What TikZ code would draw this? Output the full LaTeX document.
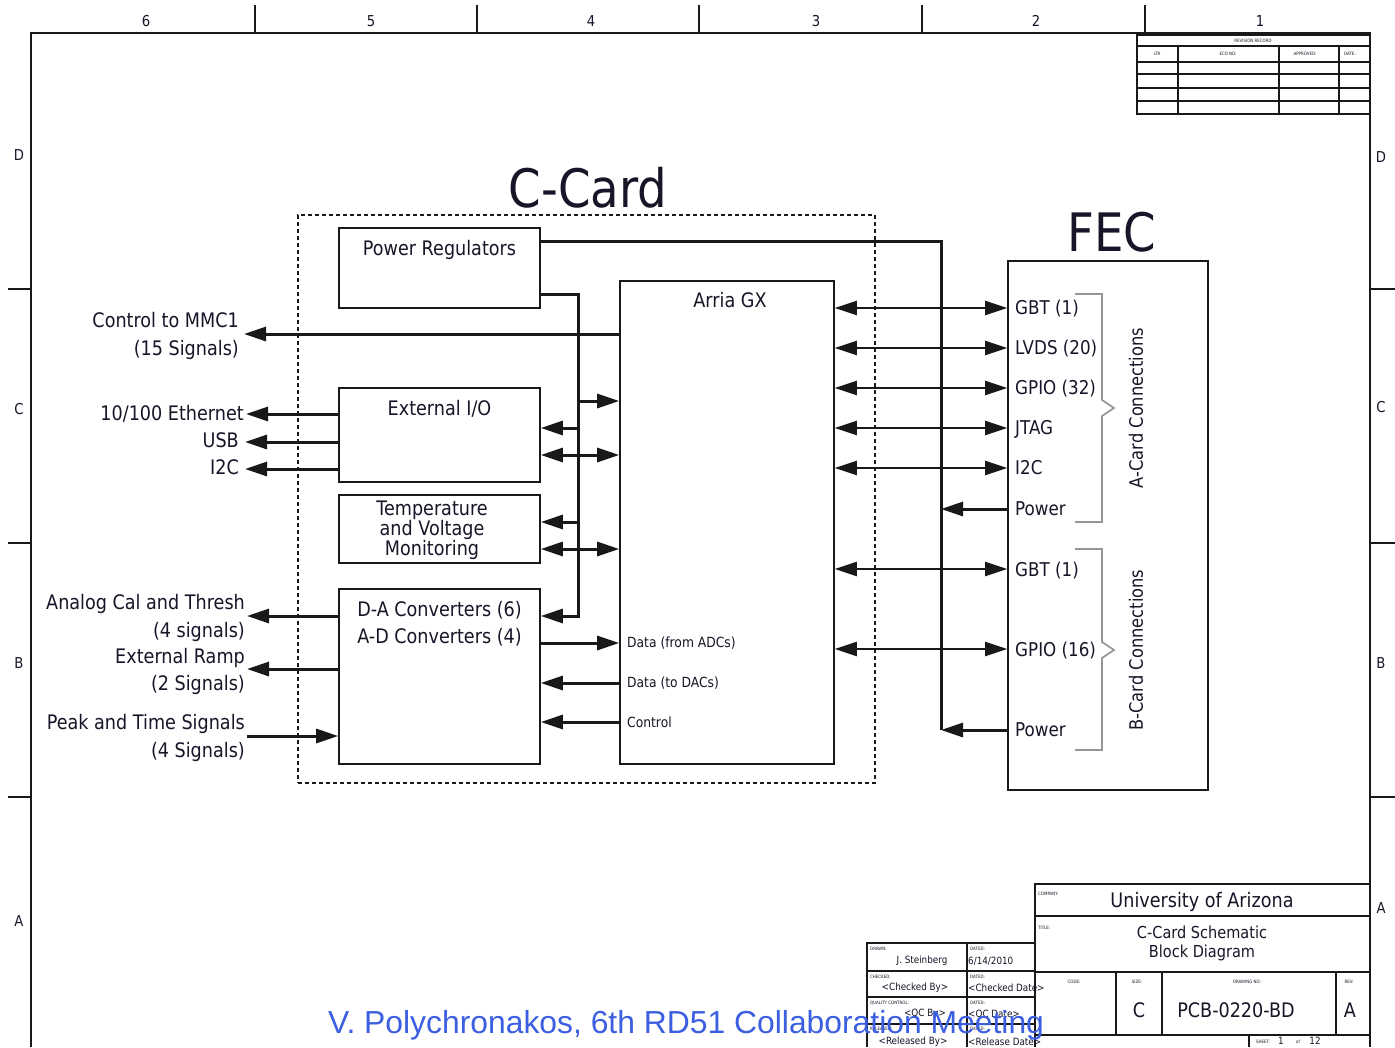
\documentclass[tikz,border=0pt]{standalone}
\usepackage{fontspec}
\setmainfont{DejaVu Sans}[FakeStretch=0.88]
\newfontfamily\arialfont{Liberation Sans}
\usetikzlibrary{arrows.meta,calc}
\definecolor{ink}{RGB}{22,22,40}
\definecolor{linec}{RGB}{25,25,25}
\definecolor{bluetxt}{RGB}{60,95,225}
\definecolor{brk}{RGB}{150,150,150}
\tikzset{
  frame/.style={draw=linec, line width=1.4pt},
  box/.style={draw=linec, line width=1.6pt, inner sep=0pt},
  dashbox/.style={draw=linec, line width=1.2pt, dash pattern=on 4pt off 3pt, inner sep=0pt},
  t20/.style={text=ink, font=\fontsize{20}{27}\selectfont, inner sep=2pt, text height=14.6pt, text depth=4.2pt},
  t20m/.style={text=ink, font=\fontsize{20}{27.5}\selectfont, inner sep=2pt, align=right},
  t19/.style={text=ink, font=\fontsize{19}{24}\selectfont, inner sep=0pt, text height=13.9pt, text depth=4pt},
  t14/.style={text=ink, font=\fontsize{14}{17}\selectfont, inner sep=0pt},
  t10/.style={text=ink, font=\fontsize{10}{12}\selectfont, inner sep=0pt},
  tiny/.style={text=ink, font=\fontsize{4.5}{5}\selectfont, inner sep=0pt},
  zone/.style={text=ink, font=\fontsize{15}{18}\selectfont, inner sep=0pt},
  bigtitle/.style={text=ink, font=\fontsize{53}{60}\selectfont, inner sep=0pt},
  rot/.style={text=ink, font=\fontsize{18.5}{22}\selectfont, inner sep=0pt, rotate=90},
  thk/.style={draw=linec, line width=3pt},
  med/.style={draw=linec, line width=2pt},
  tip/.style={-{Triangle[length=22pt,width=14pt]}},
  both/.style={{Triangle[length=22pt,width=14pt]}-{Triangle[length=22pt,width=14pt]}},
  brace/.style={draw=brk, line width=1.7pt},
}
\begin{document}
\begin{tikzpicture}[x=1pt,y=-1pt]
\useasboundingbox (0,0) rectangle (1395,1047);
\fill[white] (0,0) rectangle (1395,1047);

% ---------- drawing frame ----------
\draw[frame] (31,1047) -- (31,33) -- (1370,33) -- (1370,1047);
\foreach \x in {255,477,699,922,1145} \draw[frame] (\x,5) -- (\x,33);
\foreach \y in {289,543,797} {\draw[frame] (8,\y) -- (31,\y); \draw[frame] (1370,\y) -- (1395,\y);}
\foreach \x/\n in {146/6,371/5,591/4,816/3,1036/2,1260/1} \node[zone] at (\x,21) {\n};
\foreach \y/\n in {155/D,409/C,663/B,921/A} \node[zone] at (19,\y) {\n};
\foreach \y/\n in {157/D,407/C,663/B,908/A} \node[zone] at (1381,\y) {\n};

% ---------- revision record ----------
\draw[frame, line width=1.2pt] (1137,35) rectangle (1370,114);
\foreach \y in {46,62,74,88,101} \draw[frame, line width=1.2pt] (1137,\y) -- (1370,\y);
\foreach \x in {1178,1279,1339} \draw[frame, line width=1.2pt] (\x,46) -- (\x,114);
\node[tiny] at (1253,41) {REVISION RECORD};
\node[tiny] at (1157,54) {LTR};
\node[tiny] at (1228,54) {ECO NO:};
\node[tiny] at (1305,54) {APPROVED:};
\node[tiny] at (1350,54) {DATE:};

% ---------- C-Card ----------
\node[dashbox, minimum width=577pt, minimum height=568pt] (ccard) at (586.5,499) {};
\node[bigtitle] (ccardT) at (588,188) {C-Card};

\node[box, minimum width=201pt, minimum height=80pt] (pr) at (439.5,268) {};
\node[t20] (prT) at (439.5,250) {Power Regulators};

\node[box, minimum width=214pt, minimum height=483pt] (arria) at (727,522.5) {};
\node[t20] (arriaT) at (730,302) {Arria GX};

\node[box, minimum width=201pt, minimum height=94pt] (eio) at (439.5,435) {};
\node[t20] (eioT) at (439.5,410) {External I/O};

\node[box, minimum width=201pt, minimum height=68pt] (tvm) at (439.5,529) {};
\node[text=ink, font=\fontsize{20}{20}\selectfont, inner sep=0pt, align=center] (tvmT) at (432,530) {Temperature\\and Voltage\\Monitoring};

\node[box, minimum width=201pt, minimum height=175pt] (dac) at (439.5,676.5) {};
\node[t20] (dacT1) at (439.5,611) {D-A Converters (6)};
\node[t20] (dacT2) at (439.5,638) {A-D Converters (4)};

% ---------- FEC ----------
\node[box, minimum width=200pt, minimum height=529pt] (fec) at (1108,525.5) {};
\node[bigtitle] (fecT) at (1112,232) {FEC};

\node[t19, anchor=west] (gbtA) at (1015,310) {GBT (1)};
\node[t19, anchor=west] (lvds) at (1015,350) {LVDS (20)};
\node[t19, anchor=west] (gpioA) at (1015,390) {GPIO (32)};
\node[t19, anchor=west] (jtag) at (1015,430) {JTAG};
\node[t19, anchor=west] (i2cF) at (1015,470) {I2C};
\node[t19, anchor=west] (pwA) at (1015,511) {Power};
\node[t19, anchor=west] (gbtB) at (1015,572) {GBT (1)};
\node[t19, anchor=west] (gpioB) at (1015,652) {GPIO (16)};
\node[t19, anchor=west] (pwB) at (1015,732) {Power};

\draw[brace] (1075,294) -- (1102,294) -- (1102,400) -- (1114,408) -- (1102,416) -- (1102,522) -- (1075,522);
\draw[brace] (1075,549) -- (1102,549) -- (1102,642) -- (1114,650) -- (1102,658) -- (1102,750) -- (1075,750);
\node[rot] (aconn) at (1136,408) {A-Card Connections};
\node[rot] (bconn) at (1136,650) {B-Card Connections};

% ---------- level coordinates ----------
\coordinate (pb1) at (941,241);
\coordinate (pb2) at (941,730);
\coordinate (sb1) at (578,294);
\coordinate (sb2) at (578,616);
\coordinate (y401) at (0,401);
\coordinate (y428) at (0,428);
\coordinate (y455) at (0,455);
\coordinate (y522) at (0,522);
\coordinate (y549) at (0,549);
\coordinate (y308) at (0,308);
\coordinate (y348) at (0,348);
\coordinate (y388) at (0,388);
\coordinate (y414) at (0,414);
\coordinate (y468) at (0,468);
\coordinate (y509) at (0,509);
\coordinate (y569) at (0,569);
\coordinate (y649) at (0,649);
\coordinate (y334) at (0,334);
\coordinate (y616) at (0,616);
\coordinate (y669) at (0,669);
\coordinate (y736) at (0,736);

% ---------- power distribution ----------
\draw[thk] (pr.east |- pb1) -- (pb1) -- (pb2);
\draw[thk, tip] (fec.west |- y509) -- (pb1 |- y509);
\draw[thk, tip] (fec.west |- pb2) -- (pb2);

\draw[thk, tip] (pr.east |- sb1) -- (sb1) -- (sb2) -- (dac.east |- sb2);
\draw[thk, tip] (sb1 |- y401) -- (arria.west |- y401);
\draw[thk, tip] (sb1 |- y428) -- (eio.east |- y428);
\draw[thk, both] (eio.east |- y455) -- (arria.west |- y455);
\draw[thk, tip] (sb1 |- y522) -- (tvm.east |- y522);
\draw[thk, both] (tvm.east |- y549) -- (arria.west |- y549);

% ---------- Arria <-> FEC ----------
\draw[med, both] (arria.east |- y308) -- (fec.west |- y308);
\draw[med, both] (arria.east |- y348) -- (fec.west |- y348);
\draw[med, both] (arria.east |- y388) -- (fec.west |- y388);
\draw[med, both] (arria.east |- y428) -- (fec.west |- y428);
\draw[med, both] (arria.east |- y468) -- (fec.west |- y468);
\draw[med, both] (arria.east |- y569) -- (fec.west |- y569);
\draw[med, both] (arria.east |- y649) -- (fec.west |- y649);

% ---------- Arria <-> converters ----------
\node[t14, anchor=west] (dfa) at (627,643) {Data (from ADCs)};
\node[t14, anchor=west] (dtd) at (627,683) {Data (to DACs)};
\node[t14, anchor=west] (ctl) at (627,722) {Control};
\draw[thk, tip] (dac.east |- dfa) -- (arria.west |- dfa);
\draw[thk, tip] (arria.west |- dtd) -- (dac.east |- dtd);
\draw[thk, tip] (arria.west |- ctl) -- (dac.east |- ctl);

% ---------- external signals ----------
\node[t20m, anchor=east] (mmc) at (241,336) {Control to MMC1\\(15 Signals)};
\draw[thk, tip] (arria.west |- y334) -- ($(mmc.east |- y334)+(3,0)$);

\node[t20, anchor=east] (eth) at (246,415) {10/100 Ethernet};
\node[t20, anchor=east] (usb) at (241,442) {USB};
\node[t20, anchor=east] (i2c) at (241,469) {I2C};
\draw[thk, tip] (eio.west |- y414) -- (eth.east |- y414);
\draw[thk, tip] (eio.west |- usb) -- ($(usb.east)+(4,0)$);
\draw[thk, tip] (eio.west |- i2c) -- ($(i2c.east)+(4,0)$);

\node[t20m, anchor=east] (acal) at (247,618) {Analog Cal and Thresh\\(4 signals)};
\node[t20m, anchor=east] (xramp) at (247,671.5) {External Ramp\\(2 Signals)};
\node[t20m, anchor=east] (peak) at (247,738) {Peak and Time Signals\\(4 Signals)};
\draw[thk, tip] (dac.west |- y616) -- (acal.east |- y616);
\draw[thk, tip] (dac.west |- y669) -- (xramp.east |- y669);
\draw[thk, tip] (peak.east |- y736) -- (dac.west |- y736);

% ---------- title block ----------
\draw[frame] (1035,1047) -- (1035,884) -- (1370,884);
\draw[frame] (1035,916) -- (1370,916);
\draw[frame] (1035,972) -- (1370,972);
\draw[frame] (1035,1035) -- (1370,1035);
\foreach \x in {1116,1162,1336} \draw[frame] (\x,972) -- (\x,1035);
\draw[frame] (1249,1035) -- (1249,1047);

\node[tiny, anchor=west] at (1038,894) {COMPANY:};
\node[tiny, anchor=west] at (1038,928) {TITLE:};
\node[tiny] at (1074,982) {CODE:};
\node[tiny] at (1137,982) {SIZE:};
\node[tiny] at (1247,982) {DRAWING NO:};
\node[tiny] at (1349,982) {REV:};
\node[t20] at (1202,902) {University of Arizona};
\node[text=ink, font=\fontsize{16.5}{19}\selectfont, inner sep=0pt, align=center] at (1202,943) {C-Card Schematic\\ Block Diagram};
\node[t20] at (1139,1012) {C};
\node[t20] at (1236,1012) {PCB-0220-BD};
\node[t20] at (1350,1012) {A};
\node[tiny] at (1263,1042) {SHEET:};
\node[t10] at (1281,1041) {1};
\node[tiny] at (1298,1042) {of};
\node[t10] at (1315,1041) {12};

\draw[frame] (867,1047) -- (867,943) -- (1035,943);
\draw[frame] (967,943) -- (967,1047);
\foreach \y in {971,997,1024} \draw[frame] (867,\y) -- (1035,\y);

\node[tiny, anchor=west] at (870,949) {DRAWN:};
\node[tiny, anchor=west] at (970,949) {DATED:};
\node[t10] at (922,961) {J. Steinberg};
\node[t10, anchor=west] at (968,961) {6/14/2010};
\node[tiny, anchor=west] at (870,977) {CHECKED:};
\node[tiny, anchor=west] at (970,977) {DATED:};
\node[t10] at (915,988) {<Checked By>};
\node[t10, anchor=west] at (968,988) {<Checked Date>};
\node[tiny, anchor=west] at (870,1003) {QUALITY CONTROL:};
\node[tiny, anchor=west] at (970,1003) {DATED:};
\node[t10] at (925,1014) {<QC By>};
\node[t10, anchor=west] at (968,1014) {<QC Date>};
\node[tiny, anchor=west] at (870,1029) {RELEASED:};
\node[tiny, anchor=west] at (970,1029) {DATED:};
\node[t10] at (913,1042) {<Released By>};
\node[t10, anchor=west] at (968,1042) {<Release Date>};

% ---------- footer ----------
\node[anchor=base west, inner sep=0pt, text=bluetxt, font=\arialfont\fontsize{31.85}{32}\selectfont] (footer) at (328,1033) {V. Polychronakos, 6th RD51 Collaboration Meeting};
\end{tikzpicture}
\end{document}
